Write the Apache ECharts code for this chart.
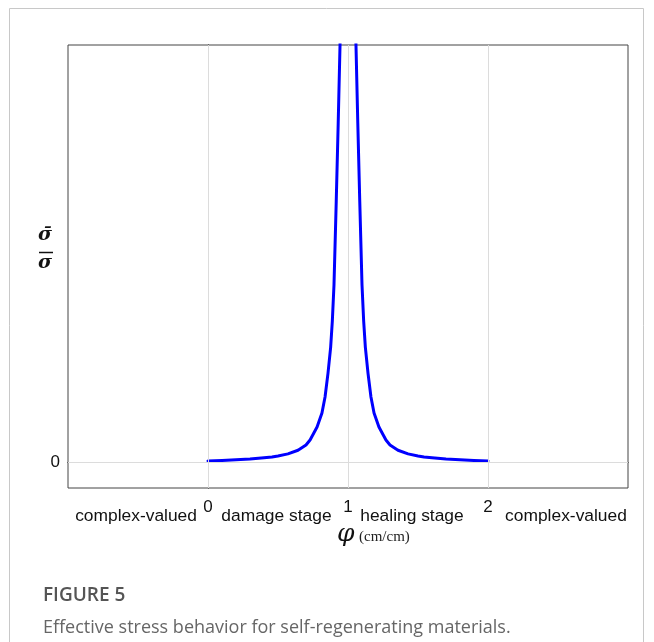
<!DOCTYPE html>
<html>
<head>
<meta charset="utf-8">
<script src="https://cdn.jsdelivr.net/npm/echarts@6/dist/echarts.min.js"></script>
<style>
html,body{margin:0;padding:0;background:#fff;}
#chart{width:654px;height:642px;}
</style>
</head>
<body>
<div id="chart"></div>
<script>
// Damage stage (phi < 1)
const damagePhi = [0, 0.1, 0.2, 0.3, 0.4, 0.457, 0.5, 0.571, 0.643, 0.7, 0.729, 0.779, 0.814, 0.836, 0.857, 0.876, 0.888, 0.9, 0.916, 0.93, 0.943, 0.96];
const damageVal = [0.04, 0.06, 0.08, 0.11, 0.16, 0.19, 0.23, 0.31, 0.45, 0.65, 0.84, 1.34, 1.88, 2.49, 3.4, 4.4, 5.4, 6.8, 10.0, 13.0, 16.0, 20.0];
// Healing stage (phi > 1)
const healingPhi = [1.04, 1.057, 1.07, 1.084, 1.1, 1.112, 1.124, 1.143, 1.164, 1.186, 1.221, 1.271, 1.3, 1.357, 1.429, 1.5, 1.543, 1.6, 1.7, 1.8, 1.9, 2.0];
const healingVal = [20.0, 16.0, 13.0, 10.0, 6.8, 5.4, 4.4, 3.4, 2.49, 1.88, 1.34, 0.84, 0.65, 0.45, 0.31, 0.23, 0.19, 0.16, 0.11, 0.08, 0.06, 0.04];

const xTicks = [0, 1, 2];
const yTicks = [0];
const stageAt = [-0.514, 0.489, 1.457, 2.557];
const stageLabels = ['complex-valued', 'damage stage', 'healing stage', 'complex-valued'];
const gridX = [0, 1, 2];
const gridY = [0];

const chart = echarts.init(document.getElementById('chart'), null, {renderer: 'canvas'});
const numFont = '"Liberation Sans", Arial, sans-serif';

const option = {
  backgroundColor: '#fff',
  animation: false,
  grid: {left: 68, right: 26, top: 45, bottom: 154, show: true, borderColor: '#444', borderWidth: 1, backgroundColor: 'transparent'},
  xAxis: [
    {type: 'value', min: -1, max: 3, position: 'bottom',
     axisLine: {show: true, lineStyle: {color: '#444'}},
     axisTick: {show: true, inside: true, length: 5, customValues: xTicks, lineStyle: {color: '#333'}},
     axisLabel: {show: true, customValues: xTicks, fontSize: 17, color: '#111', fontFamily: numFont, margin: 11},
     splitLine: {show: false}},
    {type: 'value', min: -1, max: 3, position: 'top',
     axisLine: {show: true, lineStyle: {color: '#444'}},
     axisTick: {show: true, inside: true, length: 5, customValues: xTicks, lineStyle: {color: '#333'}},
     axisLabel: {show: false}, splitLine: {show: false}},
    {type: 'value', min: -1, max: 3, position: 'bottom',
     axisLine: {show: false}, axisTick: {show: false}, splitLine: {show: false},
     axisLabel: {show: true, customValues: stageAt, fontSize: 17.4, color: '#111', fontFamily: numFont, margin: 20,
       formatter: function (v) { const i = stageAt.indexOf(v); return i >= 0 ? stageLabels[i] : ''; }}}
  ],
  yAxis: [
    {type: 'value', min: -1, max: 16, position: 'left',
     axisLine: {show: true, lineStyle: {color: '#444'}},
     axisTick: {show: true, inside: true, length: 5, customValues: yTicks, lineStyle: {color: '#333'}},
     axisLabel: {show: true, customValues: yTicks, fontSize: 17, color: '#111', fontFamily: numFont, margin: 8},
     splitLine: {show: false}},
    {type: 'value', min: -1, max: 16, position: 'right',
     axisLine: {show: true, lineStyle: {color: '#444'}},
     axisTick: {show: true, inside: true, length: 5, customValues: yTicks, lineStyle: {color: '#333'}},
     axisLabel: {show: false}, splitLine: {show: false}}
  ],
  series: [
    {type: 'line', data: [], z: 1, silent: true,
     markLine: {silent: true, symbol: ['none', 'none'], label: {show: false},
       lineStyle: {color: '#dcdcdc', width: 1, type: 'solid'},
       data: gridX.map(v => ({xAxis: v})).concat(gridY.map(v => ({yAxis: v})))}},
    {type: 'line', name: 'damage', z: 3, clip: true, showSymbol: false, smooth: false,
     lineStyle: {color: '#0000ff', width: 3, join: 'round', cap: 'round'}, itemStyle: {color: '#0000ff'},
     data: damagePhi.map((p, i) => [p, damageVal[i]])},
    {type: 'line', name: 'healing', z: 3, clip: true, showSymbol: false, smooth: false,
     lineStyle: {color: '#0000ff', width: 3, join: 'round', cap: 'round'}, itemStyle: {color: '#0000ff'},
     data: healingPhi.map((p, i) => [p, healingVal[i]])}
  ],
  graphic: [
    {type: 'rect', z: -10, silent: true, shape: {x: 9.5, y: 8.5, width: 634, height: 660},
     style: {fill: '#fff', stroke: '#c8c8c8', lineWidth: 1}},
    // y-axis fraction label
    {type: 'text', left: 38, top: 226, style: {text: 'σ\u0304', font: 'italic bold 19px "DejaVu Serif", serif', fill: '#111'}},
    {type: 'line', shape: {x1: 39, y1: 252.5, x2: 53, y2: 252.5}, style: {stroke: '#111', lineWidth: 1.5}},
    {type: 'text', left: 38, top: 254, style: {text: 'σ', font: 'italic bold 19px "DejaVu Serif", serif', fill: '#111'}},
    // x-axis name
    {type: 'text', left: 337, top: 522, style: {text: 'φ', font: 'italic 25px "DejaVu Serif", serif', fill: '#111'}},
    {type: 'text', left: 359, top: 530, style: {text: '(cm/cm)', font: '15px "Liberation Serif", serif', fill: '#222'}},
    // caption
    {type: 'text', left: 43, top: 586, style: {text: 'FIGURE 5', font: '600 19px "Open Sans", sans-serif', fill: '#555'}},
    {type: 'text', left: 43, top: 619, style: {text: 'Effective stress behavior for self-regenerating materials.', font: '18px "Open Sans", sans-serif', fill: '#666'}}
  ]
};
chart.setOption(option);
</script>
</body>
</html>
